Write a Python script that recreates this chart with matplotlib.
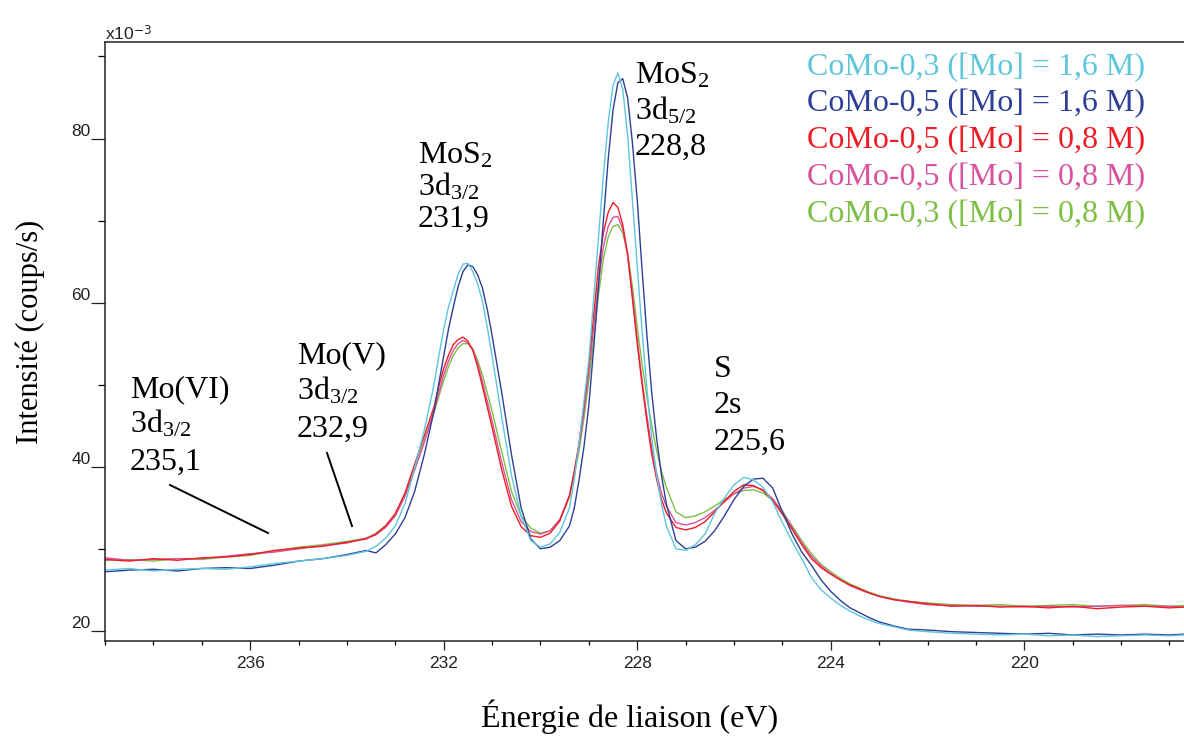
import matplotlib
matplotlib.use('Agg')
import matplotlib.pyplot as plt
from matplotlib.ticker import FixedLocator, MultipleLocator

# ---------------- data ----------------
energy = [239.0, 238.5, 238.0, 237.5, 237.0, 236.5, 236.0, 235.5, 235.0, 234.5, 234.0, 233.6,
          233.4, 233.2, 233.0, 232.8, 232.6, 232.4,
          232.2, 232.1, 232.0, 231.9, 231.8, 231.7, 231.6, 231.5, 231.4, 231.3, 231.2, 231.1, 231.0,
          230.8, 230.6, 230.4, 230.2, 230.0, 229.8, 229.6,
          229.4, 229.3, 229.2, 229.1, 229.0, 228.9, 228.8, 228.7, 228.6, 228.5, 228.4,
          228.3, 228.2, 228.1, 228.0, 227.9, 227.8, 227.7, 227.6, 227.5, 227.4,
          227.2, 227.0, 226.8, 226.6, 226.4, 226.2, 226.0, 225.8, 225.6, 225.4, 225.2,
          225.0, 224.8, 224.6, 224.4, 224.2, 224.0, 223.8, 223.6, 223.4, 223.2, 223.0,
          222.7, 222.4, 222.0, 221.5, 221.0, 220.5, 220.0, 219.5, 219.0, 218.5, 218.0, 217.5, 217.0, 216.7]

como03_16 = [27.4, 27.6, 27.3, 27.5, 27.6, 27.5, 27.8, 28.2, 28.5, 28.8, 29.2, 29.7,
             30.3, 31.3, 32.8, 35.5, 39.8, 44.5,
             50.0, 53.5, 56.8, 59.5, 61.5, 63.5, 64.7, 64.8, 63.8, 62.3, 60.2, 57.0, 53.5,
             46.0, 39.0, 34.0, 31.0, 30.2, 30.6, 32.0,
             35.0, 38.5, 43.0, 48.0, 53.0, 60.5, 68.0, 75.5, 82.0, 86.5, 88.0,
             86.0, 80.5, 72.5, 64.5, 56.5, 49.5, 43.5, 39.0, 35.5, 32.8,
             30.0, 29.8, 30.5, 31.8, 34.3, 36.2, 37.8, 38.7, 38.4, 37.5, 35.7,
             33.2, 30.9, 28.8, 26.5, 25.0, 24.0, 23.1, 22.4, 21.8, 21.3, 20.9,
             20.5, 20.1, 19.9, 19.7, 19.6, 19.5, 19.6, 19.4, 19.5, 19.3, 19.4, 19.5, 19.4, 19.5]

como05_16 = [27.2, 27.4, 27.5, 27.3, 27.6, 27.7, 27.6, 28.0, 28.5, 28.8, 29.3, 29.8,
             29.5, 30.5, 31.8, 33.8, 37.0, 41.5,
             46.8, 50.2, 53.5, 56.8, 59.5, 62.0, 63.8, 64.6, 64.4, 63.4, 61.8, 59.2, 56.0,
             49.0, 41.5, 35.0, 31.2, 30.0, 30.2, 31.0,
             32.8, 35.0, 38.5, 42.5, 47.5, 54.5, 62.0, 70.0, 77.5, 83.5, 86.8,
             87.3, 85.0, 79.5, 72.5, 64.0, 56.0, 49.0, 43.5, 39.0, 35.5,
             31.0, 30.0, 30.2, 30.9, 32.2, 34.0, 36.0, 37.6, 38.5, 38.6, 37.4,
             34.5, 31.8, 29.6, 28.0, 26.2, 24.8, 23.7, 22.8, 22.2, 21.6, 21.1,
             20.6, 20.2, 20.1, 19.9, 19.8, 19.7, 19.6, 19.7, 19.5, 19.6, 19.5, 19.6, 19.5, 19.6]

como05_08a = [28.7, 28.5, 28.8, 28.6, 28.9, 29.0, 29.3, 29.8, 30.1, 30.3, 30.8, 31.2,
              31.8, 32.8, 34.3, 36.8, 40.3, 43.8,
              47.3, 49.8, 52.0, 53.6, 54.9, 55.5, 55.8, 55.3, 54.2, 52.2, 49.8, 47.3, 44.8,
              39.6, 35.2, 32.7, 31.6, 31.4, 31.9, 33.4,
              36.5, 39.5, 43.0, 47.5, 52.5, 58.5, 64.5, 68.5, 71.0, 72.2, 71.6,
              69.5, 66.0, 60.5, 55.0, 50.0, 45.5, 41.5, 38.5, 36.0, 34.4,
              32.6, 32.3, 32.6, 33.3, 34.5, 35.8, 37.0, 37.8, 37.7, 37.1, 35.9,
              34.2, 32.4, 30.5, 28.8, 27.7, 26.9, 26.2, 25.6, 25.1, 24.6, 24.2,
              23.8, 23.6, 23.3, 23.0, 23.1, 22.9, 23.0, 22.8, 23.0, 22.7, 22.9, 23.0, 22.8, 22.9]

como05_08b = [28.9, 28.6, 28.7, 28.8, 28.8, 29.1, 29.4, 29.6, 30.0, 30.4, 30.7, 31.3,
              31.7, 32.6, 34.0, 36.4, 39.6, 43.0,
              46.8, 49.0, 51.2, 52.9, 54.2, 55.0, 55.4, 55.1, 54.3, 52.6, 50.4, 48.0, 45.6,
              40.5, 36.0, 33.3, 32.1, 31.8, 32.2, 33.6,
              36.5, 39.3, 42.5, 46.8, 51.5, 57.0, 62.5, 66.8, 69.3, 70.4, 70.5,
              69.0, 65.8, 61.0, 55.5, 50.5, 46.2, 42.2, 39.2, 36.8, 35.2,
              33.2, 32.9, 33.2, 33.8, 34.7, 35.7, 36.7, 37.4, 37.6, 37.2, 36.1,
              34.5, 32.6, 30.7, 29.1, 27.9, 27.0, 26.2, 25.5, 25.0, 24.6, 24.2,
              23.8, 23.5, 23.2, 23.1, 23.0, 23.0, 22.9, 23.0, 22.9, 23.0, 23.1, 23.0, 23.0, 22.9]

como03_08 = [28.6, 28.7, 28.5, 28.8, 28.7, 29.0, 29.2, 29.7, 30.2, 30.5, 30.9, 31.3,
             31.9, 32.8, 34.2, 36.6, 39.8, 43.2,
             46.6, 48.6, 50.5, 52.2, 53.6, 54.5, 55.0, 55.0, 54.4, 53.0, 51.2, 49.0, 46.8,
             41.8, 37.0, 34.0, 32.5, 31.9, 32.2, 33.5,
             36.3, 39.0, 42.0, 46.0, 50.5, 55.5, 61.0, 65.3, 68.0, 69.3, 69.5,
             68.5, 66.0, 62.0, 57.0, 52.5, 48.5, 45.0, 42.0, 39.5, 37.5,
             34.5, 33.8, 34.0, 34.5, 35.2, 36.0, 36.7, 37.1, 37.2, 36.8, 35.9,
             34.6, 32.8, 31.0, 29.4, 28.1, 27.2, 26.4, 25.7, 25.2, 24.7, 24.3,
             23.9, 23.6, 23.4, 23.2, 23.1, 23.2, 23.0, 23.1, 23.2, 23.0, 23.1, 23.2, 23.0, 23.1]

series_labels = ["CoMo-0,3 ([Mo] = 1,6 M)",
                 "CoMo-0,5 ([Mo] = 1,6 M)",
                 "CoMo-0,5 ([Mo] = 0,8 M)",
                 "CoMo-0,5 ([Mo] = 0,8 M)",
                 "CoMo-0,3 ([Mo] = 0,8 M)"]
series_values = [como03_16, como05_16, como05_08a, como05_08b, como03_08]
series_colors = ["#5EC6DB", "#2E3F97", "#EE1D25", "#D8529E", "#7CBF43"]

x_major_ticks = [236, 232, 228, 224, 220]
y_major_ticks = [20, 40, 60, 80]

# ---------------- figure ----------------
W, H = 1184, 736
plt.rcParams['mathtext.fontset'] = 'custom'
plt.rcParams['mathtext.rm'] = 'Liberation Serif'
plt.rcParams['mathtext.it'] = 'Liberation Serif:italic'
plt.rcParams['mathtext.bf'] = 'Liberation Serif:bold'

fig = plt.figure(figsize=(W / 100, H / 100), dpi=100)
ax_left, ax_top, ax_bottom = 105, 41.7, 640.7
ax = fig.add_axes([ax_left / W, 1 - ax_bottom / H, 1 - ax_left / W, (ax_bottom - ax_top) / H])

for vals, col in reversed(list(zip(series_values, series_colors))):
    ax.plot(energy, vals, color=col, lw=1.0)

ax.set_xlim(239.0, 216.7)
ax.set_ylim(18.8, 91.8)

ax.spines['right'].set_visible(False)
for s in ['left', 'top', 'bottom']:
    ax.spines[s].set_linewidth(1.1)
    ax.spines[s].set_color('#222222')

ax.xaxis.set_major_locator(FixedLocator(x_major_ticks))
ax.xaxis.set_minor_locator(MultipleLocator(1))
ax.yaxis.set_major_locator(FixedLocator(y_major_ticks))
ax.yaxis.set_minor_locator(MultipleLocator(10))
ax.tick_params(axis='x', which='major', direction='out', length=6.7, width=0.9, pad=4.5,
               labelsize=12.5, colors='#222222')
ax.tick_params(axis='x', which='minor', direction='out', length=3.2, width=0.9)
ax.tick_params(axis='y', which='major', direction='out', length=10, width=0.9, pad=0.5,
               labelsize=12.5, colors='#222222')
ax.tick_params(axis='y', which='minor', direction='out', length=5, width=0.9)
for lab in ax.get_xticklabels() + ax.get_yticklabels():
    lab.set_fontfamily('Liberation Sans')
for lab in ax.get_yticklabels():
    lab.set_verticalalignment('bottom')


def fpos(x, y):
    return x / W, 1 - y / H


serif = 'Liberation Serif'
# multiplier label
fig.text(*fpos(105, 40), r'x10$^{\mathsf{-3}}$', fontsize=12.5, family='Liberation Sans',
         color='#222222', va='baseline', ha='left')

# axis labels
fig.text(*fpos(630, 727), 'Énergie de liaison (eV)', fontsize=23, family=serif,
         ha='center', va='baseline')
fig.text(*fpos(30, 332), 'Intensité (coups/s)', fontsize=22, family=serif,
         ha='center', va='center', rotation=90)

# peak annotations
ann_size = 23
annotations = [
    (130, [397, 432, 470], ['Mo(VI)', r'3d$_{3/2}$', '235,1']),
    (297, [363, 400, 437], ['Mo(V)', r'3d$_{3/2}$', '232,9']),
    (418, [163, 196, 227], [r'MoS$_2$', r'3d$_{3/2}$', '231,9']),
    (635, [83, 120, 155], [r'MoS$_2$', r'3d$_{5/2}$', '228,8']),
    (714, [377, 413, 450], ['S', '2s', '225,6']),
]
for x0, ys, texts in annotations:
    for yy, t in zip(ys, texts):
        fig.text(*fpos(x0, yy), t, fontsize=ann_size, family=serif, ha='left', va='baseline')

# leader lines
for (x1, y1), (x2, y2) in [((170, 485), (268, 533)), ((327, 453), (352, 526))]:
    fig.add_artist(plt.Line2D([x1 / W, x2 / W], [1 - y1 / H, 1 - y2 / H],
                              color='black', lw=1.4, transform=fig.transFigure))

# legend (coloured text)
leg_x = 807
leg_y0, leg_dy = 75, 36.7
for i, (lab, col) in enumerate(zip(series_labels, series_colors)):
    fig.text(*fpos(leg_x, leg_y0 + i * leg_dy), lab, fontsize=23, family=serif,
             color=col, ha='left', va='baseline')

fig.savefig('out.png', dpi=100)
